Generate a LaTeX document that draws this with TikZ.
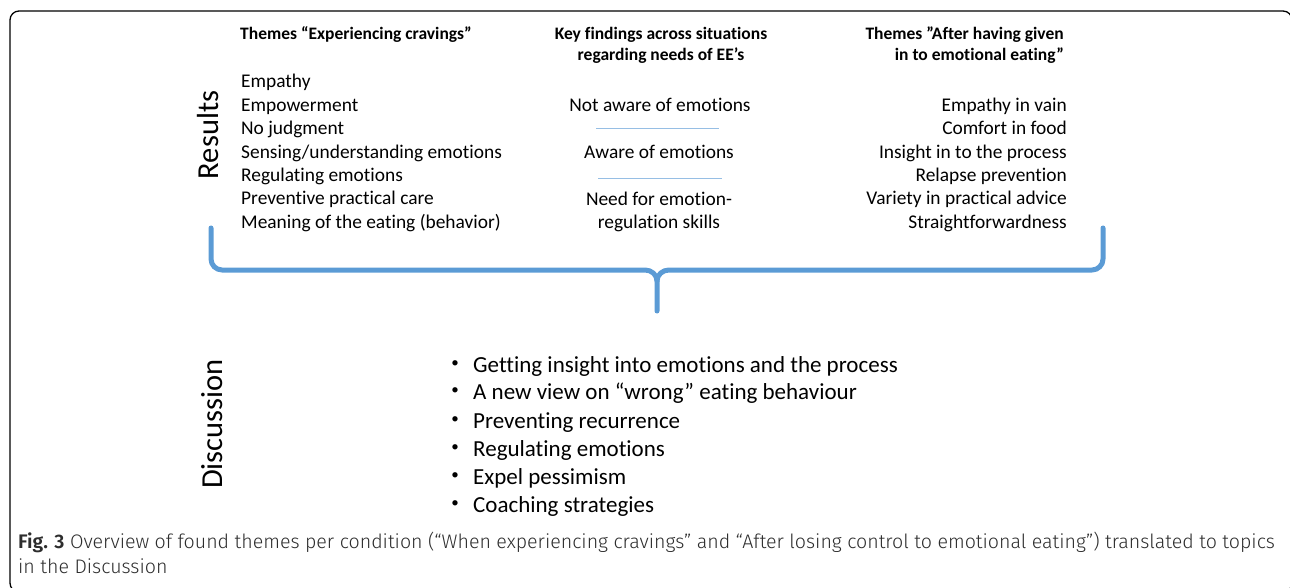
\documentclass[tikz,border=0pt]{standalone}
\usepackage{fontspec}
\setmainfont{Carlito}[Ligatures={NoCommon}]
\newfontfamily\capfont{Fira Sans Light}[BoldFont={Fira Sans SemiBold}]
\definecolor{braceblue}{RGB}{91,155,213}
\definecolor{lineblue}{RGB}{150,190,228}
\definecolor{captext}{RGB}{45,45,45}
\begin{document}
\begin{tikzpicture}[x=1pt,y=-1pt,
  head/.style={font=\bfseries\fontsize{17.5}{21}\selectfont,inner sep=0pt},
  item/.style={font=\fontsize{19.4}{23}\selectfont,inner sep=0pt},
  bullet/.style={font=\fontsize{23}{28}\selectfont,inner sep=0pt},
  dot/.style={font=\fontsize{15}{18}\selectfont,inner sep=0pt},
  side/.style={font=\fontsize{30.5}{36}\selectfont,rotate=90,inner sep=0pt},
  figcap/.style={font=\capfont\fontsize{19.6}{24}\selectfont,text=captext,inner sep=0pt,anchor=base west},
  brace/.style={braceblue,line width=5pt,line cap=round,line join=round},
  sepline/.style={lineblue,line width=1pt}]
\useasboundingbox (0,0) rectangle (1290,588);
%\draw[step=50,gray,very thin] (0,0) grid (1290,588);
\draw[line width=1.3pt,rounded corners=9pt] (10,11) rectangle (1292,592);
% column heads
\node[head,anchor=base west] (h1) at (240,40) {Themes “Experiencing cravings”};
\node[head,anchor=base] (h2a) at (661,40) {Key findings across situations};
\node[head,anchor=base] (h2b) at (661,61) {regarding needs of EE’s};
\node[head,anchor=base east] (h3a) at (1064,40) {Themes ”After having given};
\node[head,anchor=base east] (h3b) at (1064,61) {in to emotional eating”};
% results
\node[side] (results) at (208,135) {Results};
\node[item,anchor=base west] (l1) at (241,88) {Empathy};
\node[item,anchor=base west] (l2) at (241,112) {Empowerment};
\node[item,anchor=base west] (l3) at (241,135) {No judgment};
\node[item,anchor=base west] (l4) at (241,159) {Sensing/understanding emotions};
\node[item,anchor=base west] (l5) at (241,182) {Regulating emotions};
\node[item,anchor=base west] (l6) at (241,205) {Preventive practical care};
\node[item,anchor=base west] (l7) at (241,229) {Meaning of the eating (behavior)};
\node[item,anchor=base] (m1) at (660,112) {Not aware of emotions};
\draw[sepline] (596,129) -- (719,129);
\node[item,anchor=base] (m2) at (659,159) {Aware of emotions};
\draw[sepline] (598,179) -- (722,179);
\node[item,anchor=base] (m3a) at (659,206) {Need for emotion-};
\node[item,anchor=base] (m3b) at (659,229) {regulation skills};
\node[item,anchor=base east] (r1) at (1067,112) {Empathy in vain};
\node[item,anchor=base east] (r2) at (1067,135) {Comfort in food};
\node[item,anchor=base east] (r3) at (1067,159) {Insight in to the process};
\node[item,anchor=base east] (r4) at (1067,182) {Relapse prevention};
\node[item,anchor=base east] (r5) at (1067,205) {Variety in practical advice};
\node[item,anchor=base east] (r6) at (1067,229) {Straightforwardness};
% brace
\draw[brace] (211,228) -- (211,259) to[out=-90,in=180] (222,270) -- (645,270)
  to[out=0,in=90] (657,281) -- (657,311);
\draw[brace] (657,281) to[out=90,in=180] (669,270) -- (1092,270)
  to[out=0,in=-90] (1103,259) -- (1103,228);
% discussion
\node[side] (disc) at (212,424) {Discussion};
\node[dot] (b1) at (455,364) {•};
\node[bullet,anchor=base west] (d1) at (473,372) {Getting insight into emotions and the process};
\node[dot] (b2) at (455,391) {•};
\node[bullet,anchor=base west] (d2) at (473,399) {A new view on “wrong” eating behaviour};
\node[dot] (b3) at (455,420) {•};
\node[bullet,anchor=base west] (d3) at (473,428) {Preventing recurrence};
\node[dot] (b4) at (455,448) {•};
\node[bullet,anchor=base west] (d4) at (473,456) {Regulating emotions};
\node[dot] (b5) at (455,476) {•};
\node[bullet,anchor=base west] (d5) at (473,484) {Expel pessimism};
\node[dot] (b6) at (455,504) {•};
\node[bullet,anchor=base west] (d6) at (473,512) {Coaching strategies};
% caption
\node[figcap] (cap1) at (18,548) {\textbf{Fig. 3} Overview of found themes per condition (“When experiencing cravings” and “After losing control to emotional eating”) translated to topics};
\node[figcap] (cap2) at (18,573) {in the Discussion};
\end{tikzpicture}
\end{document}
